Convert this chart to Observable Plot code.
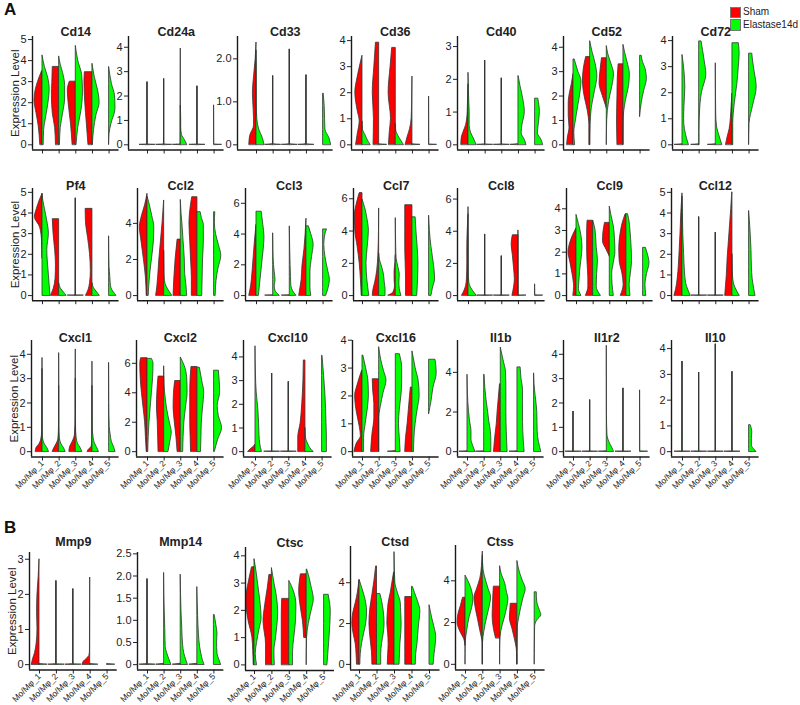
<!DOCTYPE html>
<html><head><meta charset="utf-8">
<script src="https://cdn.jsdelivr.net/npm/d3@7"></script>
<script src="https://cdn.jsdelivr.net/npm/@observablehq/plot@0.6"></script>
<style>
body{margin:0;background:#fff;}
#fig{position:relative;width:800px;height:705px;overflow:hidden;font-family:Arial,"Liberation Sans",sans-serif;color:#111;}
.tag{position:absolute;font-weight:bold;font-size:17px;}
.sw{position:absolute;width:11px;height:11px;box-sizing:border-box;border:0.6px solid #777;}
.lg{position:absolute;font-size:10px;color:#222;white-space:nowrap;}
</style></head><body><div id="fig">
<div class="tag" style="left:4px;top:0px">A</div>
<div class="tag" style="left:4px;top:518px">B</div>
<div class="sw" style="left:730px;top:7px;background:#ff0000"></div>
<div class="lg" style="left:743px;top:6px">Sham</div>
<div class="sw" style="left:730px;top:19px;height:12px;background:#00ff00"></div>
<div class="lg" style="left:743px;top:19px">Elastase14d</div>
</div>
<script>
// ---------------- data ----------------
const clusters = ["Mo/Mφ_1", "Mo/Mφ_2", "Mo/Mφ_3", "Mo/Mφ_4", "Mo/Mφ_5"];
const conditions = ["Sham", "Elastase14d"];
const genes = ["Cd14","Cd24a","Cd33","Cd36","Cd40","Cd52","Cd72",
  "Pf4","Ccl2","Ccl3","Ccl7","Ccl8","Ccl9","Ccl12",
  "Cxcl1","Cxcl2","Cxcl10","Cxcl16","Il1b","Il1r2","Il10",
  "Mmp9","Mmp14","Ctsc","Ctsd","Ctss"];
// top of the data range of each panel's y axis
const axisMax = [4.9,4.23,2.4,3.96,3.15,4.23,3.96,
  4.94,5.65,6.63,6.32,6.34,4.7,4.94,
  4.35,7.19,4.47,3.8,5.34,4.35,4.11,
  3.04,2.41,4.1,5.5,5.42];
const yTickLabels = [
  ["0","1","2","3","4","5"],["0","1","2","3","4"],["0","1.0","2.0"],["0","1","2","3","4"],["0","1","2","3"],["0","1","2","3","4"],["0","1","2","3","4"],
  ["0","1","2","3","4","5"],["0","2","4"],["0","2","4","6"],["0","2","4","6"],["0","2","4","6"],["0","1","2","3","4"],["0","1","2","3","4","5"],
  ["0","1","2","3","4"],["0","2","4","6"],["0","1","2","3","4"],["0","1","2","3","4"],["0","2","4"],["0","1","2","3","4"],["0","1","2","3","4"],
  ["0","1","2","3"],["0","0.5","1.0","1.5","2.0","2.5"],["0","1","2","3","4"],["0","2","4"],["0","2","4"]
];
// Each half violin: [level, relative width, level, relative width, ...];
// a single number = cells piled at 0 with a thin tail up to that value; null = no cells.
const shamViolins = [
  [[0,.28,.9,.48,1.5,.75,2.1,1,2.6,.85,3,.55,3.5,.05],[0,.4,.8,.5,1.5,.8,2.3,.9,3,.85,3.7,.8],[0,.4,1,.6,2,.9,2.6,1,3,.75],[0,.5,1,.7,2,.9,3,1,3.45,.95],null],
  [2.57,2.7,3.95,2.4,null],
  [[0,.9,.2,.8,.45,.3,.8,.35,1.2,.45,1.6,.3,2,.1,2.38,0],1.6,2.22,1.62,null],
  [[0,.8,.4,.6,.9,.35,1.3,.6,2,.9,2.6,.6,3.1,.25,3.42,0],[0,.7,1,.65,2,.8,3,.6,3.92,.4],[0,.85,.5,.75,1,.6,2,.9,3,.65,3.72,.45],[0,.85,.3,.6,.6,.3,1,.1,1.5,.05,2.62,0],null],
  [[0,.9,.2,.85,.4,.6,.6,.3,1,.1,1.5,.05,1.85,0],2.57,2.03,0,null],
  [[0,.8,.3,.7,.7,.5,1.2,.6,1.7,.6,2.2,.4,2.5,.2,2.9,0],[0,.1,.8,.1,1.4,.3,2,.7,2.6,.9,3.1,.8,3.6,.5],[1.5,0,2,.5,2.5,.9,3,.8,3.55,.6],[0,.75,1,.8,2,.75,2.8,.7,3.3,.6],null],
  [0,0,0,[0,.8,.3,.6,.6,.35,1,.2,1.5,.1,1.97,0],null],
  [[1.8,0,2.6,.05,3.3,.3,3.8,.95,4.2,.7,4.6,.35,4.93,0],[0,1,.3,.7,.8,.45,1.5,.4,2.2,.5,3,.7,3.7,.8],4.71,[0,.8,.25,.5,.6,.3,1.2,.2,2,.3,2.8,.55,3.5,.8,4.2,.85],null],
  [[0,.1,1,.2,2,.45,3,.75,3.8,.95,4.4,.7,5,.3,5.64,0],[0,1,.5,.85,1,.75,2,.6,3,.4,4,.2,5.27,0],[0,.9,1,.8,2,.65,3.1,.4],[0,.7,1,.7,2,.8,3,.9,4,1,4.7,.9,5.45,.65],null],
  [[0,.9,.7,.65,1.5,.5,2.5,.35,3.5,.2,4.6,0],0,0,[0,.9,.5,.75,1,.6,1.9,.5,3,.25,4,.1,5,0],null],
  [[0,.1,1,.2,2,.35,3,.6,4,.9,5,.95,5.7,.7,6.35,.35],[0,.8,.4,.7,.8,.5,1.5,.25,2.5,.1,4,.02,5.4,0],[0,.9,.1,.5,.3,.2,.6,.1,1,.15,1.5,.15,2,.05,2.5,0],[0,.8,1,.8,2,.85,3,.9,4,.9,5,.9,5.6,.9],null],
  [[0,.8,.3,.5,.6,.3,1,.2,2,.15,3,.15,4,.1,5.05,0],3.8,2.45,[0,.75,.5,.55,1,.45,1.7,.55,2.5,.7,3.2,.85,3.75,.7],null],
  [[0,.4,.4,.3,1,.5,1.5,.75,2,1,2.4,.8,2.8,.4,3.1,0],[0,.9,.4,.6,.8,.6,1.5,.7,2.2,.75,2.9,.75,3.45,.7],[1.8,0,2.1,.4,2.5,.85,2.9,.8,3.35,.6],[0,.7,.5,.35,1,.5,1.6,.85,2.2,.9,2.8,.75,3.3,.5,3.75,.1],null],
  [[0,1,.3,.8,.8,.6,1.5,.45,2.2,.35,3,.25,4,.15,4.95,0],3.8,3.05,[0,.9,.5,.8,1,.7,1.8,.6,2.6,.45,3.4,.3,4.2,.15,5,.02],null],
  [[0,.85,.15,.75,.3,.4,.5,.15,.8,.05,1.5,.02,3.4,0],[0,.8,.15,.6,.3,.35,.5,.1,1,.02,2.7,0],[0,.8,.2,.7,.4,.4,.7,.1,1.5,.02,4.2,0],[0,.6,.1,.4,.2,.1,.5,.02,2.7,0],null],
  [[0,.1,1,.2,2,.3,3,.5,4,.7,5,.85,6,.9,6.35,.8],[0,.7,1,.75,2,.8,3,.9,4,.85,5.1,.7],[0,.4,1,.55,2,.75,3,.9,4,.85,4.8,.7],[0,.8,1,.85,2,.9,3,.9,4,.9,5,.85,5.75,.75],null],
  [[0,.9,.1,.6,.25,.1,.3,0],3.3,2.95,[0,.9,.6,.9,1.2,.6,2,.4,3,.25,3.85,.2],null],
  [[0,1,.3,.7,.55,.2,.9,.35,1.4,.7,2,.92,2.4,.6,2.9,.05],[0,1,.6,.85,1.2,.6,1.7,.6,2.2,.75,2.6,.8],0,[0,.9,.5,.8,1,.6,1.5,.45,2,.3,2.3,.2],null],
  [0,0,[0,.85,.7,.7,1.4,.5,2,.4,2.7,.25,3.4,.1],0,null],
  [1.65,2.12,0,2.6,null],
  [3.5,3.07,4.17,3.1,null],
  [[0,.95,.15,.8,.33,.55,.6,.35,1,.25,1.5,.3,2,.25,2.5,.1,3,0],2.38,2.15,[0,.95,.08,.8,.17,.4,.25,.1,.4,.03,1,.02,2.48,0],null],
  [1.93,0,0,0,null],
  [[0,.1,.5,.15,1,.25,1.6,.7,2.4,1,3,.7,3.58,.3],[0,.7,.75,.7,1.6,1,2.2,.8,2.8,.5,3.3,.3],[0,.9,1,.9,1.8,.9,2.42,.85],[1,.3,1.6,.45,2.1,.7,2.7,.9,3.32,.7],null],
  [[0,.3,.5,.35,1,.45,1.5,.7,2,.85,2.5,.75,3,.45,3.5,.2,4.1,.02],[0,.55,.6,.6,1.2,.75,2,.9,2.7,.8,3.4,.55,4.1,.3,4.8,.1],[0,.8,.5,.75,1,.7,1.5,.75,2,.85,2.5,.8,3,.7,3.5,.45,4,.25,4.5,.05],[0,.8,.6,.8,1.2,.8,1.8,.8,2.4,.8,3,.8,3.3,.8],null],
  [[.9,0,1.2,.15,1.5,.55,2,.95,2.4,.85,2.8,.55,3.19,.3],[0,0,1,.02,1.6,.3,2.2,.6,2.8,.9,3.2,1,3.6,.7,4.1,.3,4.7,.1,5.4,0],[1.25,.5,1.7,.75,2.3,.9,2.9,.85,3.4,.8,3.72,.75],[0,.02,.6,.05,1.2,.3,1.7,.6,2.2,.9,2.6,.85,2.9,.8],null]
];
const elastaseViolins = [
  [[0,.15,.7,.2,1.3,.45,2,.75,2.6,.9,3.2,.7,3.7,.3,4.25,0],[0,.1,.8,.2,1.5,.5,2.2,.75,2.8,.75,3.4,.5,3.8,.2,4.2,0],[0,.1,.8,.3,1.6,.7,2.5,.9,3.3,.8,4,.3,4.7,0],[0,.05,.7,.2,1.4,.5,2,.9,2.5,.75,3.2,.3,3.85,0],[0,0,.5,.05,1,.3,1.7,.8,2.3,.75,2.9,.35,3.7,0]],
  [2.57,2.7,[0,.8,.2,.5,.4,.15,.7,.05,1,.05,1.6,0],2.4,1.62],
  [[0,1,.15,.8,.35,.35,.6,.1,1,.03,1.8,.02,2.2,0],1.6,2.22,1.62,[0,1,.15,.8,.35,.3,.6,.25,.9,.2,1.19,.08]],
  [[0,1,.15,.7,.35,.4,.6,.05,.9,0],0,[0,1,.15,.7,.35,.3,.55,.05,.8,0],0,1.85],
  [[0,1,.15,.75,.35,.35,.6,.15,1,.15,1.3,.1,1.7,.05,2.2,0],2.57,2.03,[0,1,.15,.8,.35,.4,.6,.5,1,.8,1.4,.6,1.8,.25,2.1,.02],[0,1,.15,.8,.35,.35,.6,.45,1,.6,1.41,.4]],
  [[0,.2,.5,.1,1,.3,1.6,.6,2.2,.9,2.6,1,3,.6,3.5,.15],[0,0,.8,.05,1.5,.2,2.2,.6,2.8,.9,3.3,.7,3.8,.3,4.25,0],[0,0,1,.05,1.8,.3,2.4,.7,2.9,.9,3.3,.6,3.7,.2,4.05,0],[0,0,1,.02,1.8,.3,2.4,.7,2.9,.8,3.4,.5,3.8,.2,4.1,0],[1.15,0,1.7,.2,2.2,.5,2.7,.85,3.1,.7,3.4,.35,3.65,.2]],
  [[0,.8,.2,.6,.6,.3,1,.2,1.5,.25,2.2,.35,2.8,.25,3.45,0],[0,.05,.5,.05,1.2,.1,2,.35,2.7,.9,3.2,.7,3.6,.5,3.97,.3],[0,.8,.2,.6,.4,.4,.7,.15,1.2,.05,2,.02,3.13,0],[0,.1,.8,.1,1.6,.3,2.3,.6,3,.8,3.5,.9,3.9,.8],[0,0,.8,.05,1.5,.5,2.2,.95,2.8,.7,3.2,.5,3.5,.4]],
  [[0,1,1,.8,2.2,.6,3,.8,3.6,.6,4.2,.3,4.6,.1,4.93,0],[0,.9,.15,.6,.35,.2,.6,0],4.71,[0,.9,.15,.6,.35,.2,.6,0],[0,.9,.15,.6,.35,.3,.6,.2,.9,.15,1.4,.05,2,.02,2.87,0]],
  [[0,.15,1,.3,2,.55,3,.8,3.8,.85,4.4,.6,5,.3,5.5,0],[0,1,.2,.7,.5,.3,.8,.1,1.2,.05,2,.02,2.5,0],[0,.8,.6,.7,1.2,.55,2,.5,3,.35,4,.2,4.5,.1,5.3,0],[0,.6,1,.65,2,.7,3,.8,3.9,.8,4.3,.55,4.62,.4],[0,.2,.8,.3,1.5,.55,2.2,.9,2.8,.6,3.4,.25,4,.1,4.62,.15]],
  [[0,.3,1,.5,2,.7,3,.9,3.8,1,4.6,.85,5.45,.65],[0,.8,.3,.3,.6,.2,1,.3,1.5,.2,2,.1,3,.03,4.05,0],[0,.8,.3,.4,.6,.2,1.2,.15,2,.1,3,.05,4.5,0],[0,.6,.5,.5,1.5,.5,2.5,.7,3.3,.9,4,.6,4.5,.3],[0,.4,.5,.7,1,.85,1.7,.6,2.5,.3,3.3,.15,4,.3,4.3,.5]],
  [[0,.85,1,.6,2,.5,3,.65,4,.8,4.8,.6,5.4,.35,5.95,0],[0,.8,.4,.8,.8,.7,1.3,.6,1.8,.35,2.2,.1,2.6,0],[0,.7,.4,.5,.8,.45,1.3,.5,1.7,.35,2.3,.1,3,.05,4.8,0],[0,.6,1,.7,2,.75,3,.65,4,.5,4.85,.4],[0,.3,.5,.5,1,.75,1.5,.7,2.3,.5,3,.3,4,.1,4.95,0]],
  [[0,1,.2,.7,.5,.3,.8,.1,1.5,.03,3,.02,5.5,0],3.8,2.45,4.05,.7],
  [[0,.6,.3,.3,.6,.35,1.1,.45,1.6,.6,2.2,.75,2.8,.6,3.3,.3,3.72,0],[0,.95,.4,.45,1,.5,1.6,.6,2.2,.45,3,.3,3.45,0],[0,.5,.5,.35,1,.3,1.5,.5,2,.7,2.6,.65,3.2,.5,3.7,.2,4.1,0],[0,.5,.5,.4,1,.55,1.6,.7,2.2,.65,3,.5,3.5,.35,3.75,.2],[0,.4,.5,.3,1,.5,1.5,.8,1.9,.6,2.2,.35]],
  [[0,1,.2,.8,.6,.45,1.2,.3,2,.2,3,.1,4,.05,4.8,0],3.8,3.05,[0,.9,.2,.6,.5,.25,.8,.1,1.5,.02,2,0],[0,.8,.3,.65,.8,.45,1.4,.35,2.2,.3,3,.2,3.6,.1,4.1,0]],
  [[0,.8,.15,.6,.3,.3,.6,.05,1,.02,3.85,0],[0,.8,.15,.6,.3,.3,.6,.08,1,.03,4.05,0],[0,.8,.15,.6,.3,.3,.6,.1,1,.03,3,0],[0,.8,.15,.6,.35,.3,.7,.1,1,.03,3.7,0],[0,.8,.2,.6,.4,.35,.7,.2,1,.08,2,.02,3.65,0]],
  [[0,.1,1,.15,2,.25,3,.4,4,.55,5,.7,6,.75,6.3,.55],[0,.55,.6,.75,1.3,.95,2,.7,2.8,.4,3.6,.2,4.5,.05,5.8,0],[0,.3,1,.35,2,.45,3,.65,4,.85,5,.8,5.8,.5,6.4,0],[0,.45,1,.5,2,.55,3,.7,4,.85,4.8,.6,5.7,.3],[0,.1,.8,.5,1.6,1,2.4,.6,3.1,.45,4,.75,4.8,.7,5.5,.6]],
  [[0,.8,.3,.6,.7,.5,1.2,.45,1.8,.35,2.5,.15,3.3,.05,4.45,0],3.3,2.95,[0,1,.15,.6,.35,.3,.6,.05,1,0],[0,.6,.6,.6,1.2,.55,1.8,.5,2.5,.4,3.2,.25,4.05,.05]],
  [[0,.2,.5,.2,1,.4,1.5,.65,2,.8,2.5,.75,3,.45,3.45,.1],[0,0,1.2,0,1.6,.2,2.1,.55,2.55,.92,2.9,.6,3.3,.25,3.75,0],[0,.6,.5,.5,1,.4,1.5,.5,2,.7,2.5,.8,3,.8,3.5,.5],[0,.2,.5,.25,1,.4,1.5,.65,2,.9,2.5,.8,3,.4,3.6,0],[1.35,0,1.8,.3,2.3,.55,2.8,.95,3.1,.9,3.3,.8]],
  [[0,1,.3,.7,.6,.5,1,.5,1.6,.3,2.5,.1,3.3,.03,3.88,0],[0,.9,.5,.9,1,.85,1.5,.65,2,.5,2.6,.3,3.2,.15,3.88,.05],[0,.85,1,.75,2,.7,3,.7,4,.65,4.6,.35,5.25,0],[0,.9,.5,.8,1.5,.7,2.5,.7,3.1,.7,3.7,.5,4.25,.4],[0,.9,.5,.6,1,.45,2,.4,2.8,.2,3.4,.05,3.95,0]],
  [1.65,2.12,[0,.9,.15,.7,.3,.45,.5,.2,.7,.08,1.5,.02,4.35,0],2.6,2.52],
  [3.5,3.07,4.17,3.1,[0,.9,.1,.6,.25,.35,.5,.35,.75,.4,1.03,.2]],
  [0,2.38,2.15,0,0],
  [1.93,[0,.9,.1,.7,.25,.4,.4,.2,.8,.15,1.2,.08,1.6,.03,2.07,0],[0,.9,.1,.7,.25,.45,.45,.3,.8,.2,1.2,.1,1.6,.04,2.03,0],[0,.9,.1,.7,.25,.5,.4,.35,.7,.2,1.1,.1,1.4,.05,1.75,0],[0,.9,.1,.7,.25,.45,.5,.4,.7,.45,.9,.3,1.12,.1]],
  [[0,.3,.4,.15,.8,.3,1.3,.6,1.7,.85,2.2,.75,2.8,.5,3.4,.25,3.88,0],[0,.35,.5,.3,1,.5,1.6,.7,1.9,.75,2.5,.6,3,.3,3.55,0],[0,.45,.5,.45,1,.6,1.6,.8,2.2,.85,2.7,.55,3.08,0],[0,0,1,.05,1.5,.25,2,.6,2.4,.85,2.9,.55,3.3,.25,3.5,.05],[0,.4,.8,.6,1.5,.75,2,.8,2.3,.7,2.57,.55]],
  [[0,.1,.5,.15,1,.3,1.5,.55,2,.8,2.6,.9,3.2,.7,3.7,.35,4.15,0],[0,.5,.5,.5,1,.6,1.5,.8,2,.9,2.6,.8,3.1,.6,3.45,.4],[0,.6,.5,.65,1,.7,1.5,.8,2,.85,2.5,.8,3,.75,3.5,.4,4,.1,5.5,0],[0,.45,.5,.5,1,.65,1.5,.75,2,.85,2.6,1,3.1,.7,3.5,.35,3.8,.1],[0,.5,.5,.6,1,.75,1.35,.8,1.8,.6,2.3,.3,2.9,0]],
  [[0,0,1,.02,1.6,.2,2.26,.5,2.7,.8,3.06,.95,3.7,.65,4.25,0],[0,0,1,.02,1.6,.2,2.2,.5,2.8,.85,3.2,1,3.6,.7,4,.4,4.5,.1,5.2,0],[0,0,1,.02,1.6,.15,2.2,.55,2.7,.85,3.1,1,3.5,.8,3.9,.6,4.3,.2,4.7,0],[0,0,1,.02,1.8,.05,2.2,.2,2.7,.45,3.2,.75,3.6,1,4,.65,4.4,.3,4.95,0],[0,0,1,.02,1.8,.05,2.1,.3,2.35,.8,2.6,.6,3,.3,3.45,.25]]
];

// ---------------- layout (pixels) ----------------
const rowSizes = [7, 7, 7, 5];
const layout = [
  {top:[36,36,36,36,36,36,36], bottom:149.5, titleY:27, labels:false,
   axisX:[32,128,237,351,457,563,672], first:[42,147,256,362,468,573,682], sp:[16.65,16.65,16.65,16.65,16.65,16.65,16.65]},
  {top:[188.3,188.3,188.3,188.3,188.3,188.3,188.3], bottom:300.5, titleY:181, labels:false,
   axisX:[32,137,245,353,457,566,671], first:[42,147,256,362,468,576,682], sp:[16.65,16.65,16.65,16.65,16.65,16.65,16.65]},
  {top:[339.5,339.5,339.5,339.5,339.5,339.5,339.5], bottom:456, titleY:332, labels:true,
   axisX:[31,136,243,352,457,563,671], first:[42,147,255,362,467,573,682], sp:[16.65,16.65,16.65,16.65,16.65,16.65,16.65]},
  {top:[552,552,546.5,546,545], bottom:669.5, titleY:537, labels:true,
   axisX:[29,137,245,350,455], first:[39,147,254,359,465], sp:[16.9,16.6,17.4,17.5,17.3]}
];
const FONT = 'Arial, "Liberation Sans", sans-serif';
const ML = 30, MR = 4, MT = 30, HW = 0.48;

function halfPoints(spec, c, side, cond, key) {
  if (spec == null) return [];
  const arr = typeof spec === "number" ? (spec > 0 ? [0, .95, .02, .02, spec, 0] : [0, .95, .02, 0]) : spec;
  const pts = [];
  for (let i = 0; i < arr.length; i += 2) pts.push({key, cond, c, y: arr[i], x: c + side * arr[i + 1] * HW});
  return pts;
}

const fig = document.getElementById("fig");
let gi = 0;
rowSizes.forEach((n, r) => {
  const L = layout[r];
  for (let col = 0; col < n; col++, gi++) {
    const gene = genes[gi];
    const top = L.top[col], sp = L.sp[col], axisX = L.axisX[col], first = L.first[col];
    const x0 = 1 - (first - axisX) / sp, x1 = 5.6;
    const plotW = (x1 - x0) * sp, plotH = L.bottom - top;
    const MB = Math.min(48, 704 - L.bottom);
    const H = axisMax[gi];
    const pts = [];
    clusters.forEach((cl, k) => {
      pts.push(...halfPoints(shamViolins[gi][k], k + 1, -1, conditions[0], gi + "s" + k));
      pts.push(...halfPoints(elastaseViolins[gi][k], k + 1, 1, conditions[1], gi + "e" + k));
    });
    const labels = yTickLabels[gi];
    const ticks = labels.map(Number);
    const marks = [
      Plot.areaX(pts, {y: "y", x1: "c", x2: "x", z: "key", fill: "cond", stroke: "#333", strokeWidth: 0.8, curve: "monotone-y"}),
      Plot.ruleX([x0], {stroke: "#1a1a1a", strokeWidth: 1.4}),
      Plot.ruleY([-0.05 * H], {stroke: "#1a1a1a", strokeWidth: 1.4}),
      Plot.axisY({ticks, tickFormat: d => labels[ticks.findIndex(t => Math.abs(t - d) < 1e-9)], tickSize: 4, tickPadding: 2, label: null, fontSize: 11}),
      Plot.axisX({ticks: [1, 2, 3, 4, 5], tickFormat: L.labels ? (d => clusters[d - 1]) : (() => ""), tickSize: 4, tickPadding: 1,
        tickRotate: L.labels ? -45 : 0, label: null, fontSize: 8.5}),
      Plot.text([gene], {frameAnchor: "top", dy: L.titleY - top, fontWeight: "bold", fontSize: 12.5})
    ];
    if (col === 0) marks.push(Plot.text(["Expression Level"], {frameAnchor: "left", textAnchor: "middle", rotate: -90, dx: 13 - ML, fontSize: 11.5}));
    const svg = Plot.plot({
      width: ML + plotW + MR, height: MT + plotH + MB,
      marginLeft: ML, marginRight: MR, marginTop: MT, marginBottom: MB,
      x: {domain: [x0, x1], label: null},
      y: {domain: [-0.05 * H, 1.05 * H], label: null},
      color: {domain: conditions, range: ["#ff0000", "#00ff00"]},
      style: {background: "transparent", fontFamily: FONT, fontSize: "11px", color: "#222", overflow: "visible"},
      marks
    });
    svg.style.position = "absolute";
    svg.style.left = (axisX - ML) + "px";
    svg.style.top = (top - MT) + "px";
    svg.style.maxWidth = "none";
    fig.append(svg);
  }
});
</script></body></html>
